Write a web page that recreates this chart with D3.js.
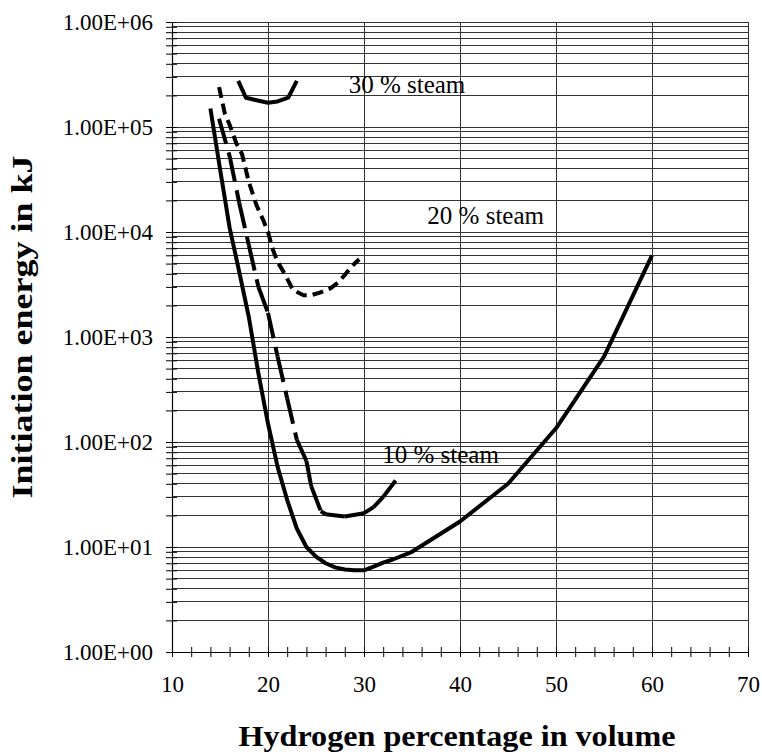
<!DOCTYPE html>
<html>
<head>
<meta charset="utf-8">
<script src="https://cdn.jsdelivr.net/npm/d3@7"></script>
<style>
  body { margin: 0; background: #fff; }
  text { font-family: "Liberation Serif", "Times New Roman", serif; fill: #000; }
</style>
</head>
<body>
<svg id="chart"></svg>
<script>
// Curves: [hydrogen %, initiation energy kJ]
const noSteam = [
  [14, 1.5e5], [15, 4.0e4], [16, 1.1e4], [17, 4.2e3], [18, 1.55e3], [19, 450],
  [20, 150], [21, 58], [22, 28], [23, 15], [24, 10], [25, 8.1], [26, 7.0],
  [27, 6.4], [28, 6.1], [29, 6.0], [30, 6.0], [31, 6.5], [32, 7.1], [33, 7.6],
  [35, 9.0], [40, 17.5], [45, 40], [50, 135], [55, 650], [60, 6000]
];
const steam10 = [
  [14.9, 1.2e5], [16, 5.3e4], [17, 1.9e4], [18, 7.5e3], [19, 3.0e3], [20, 1.7e3],
  [21, 650], [22, 260], [23, 105], [24, 66], [24.5, 38], [25.5, 22], [26, 20.5],
  [28, 19.5], [30, 21], [31, 24], [32, 30], [33.3, 43]
];
const steam20 = [
  [14.9, 2.4e5], [15.5, 1.35e5], [16, 1.05e5], [16.7, 7.0e4], [17.3, 5.5e4],
  [18, 3.0e4], [18.8, 1.8e4], [19.5, 1.3e4], [20, 1.0e4], [20.5, 6.8e3],
  [21, 5.2e3], [21.8, 3.9e3], [22.6, 2.8e3], [23.7, 2.5e3], [24.5, 2.5e3],
  [25.4, 2.65e3], [26.5, 2.9e3], [27.3, 3.3e3], [28, 3.9e3], [28.7, 4.7e3],
  [29.5, 5.5e3]
];
const steam30 = [
  [16.9, 2.75e5], [17.7, 1.9e5], [18.8, 1.8e5], [20, 1.7e5], [21, 1.75e5],
  [22.1, 1.9e5], [23, 2.75e5]
];

// Annotation text and where it sits, in data units
const noteText = ["30 % steam", "20 % steam", "10 % steam"];
const noteX = [28.4, 36.6, 31.9];
const noteY = [2.1e5, 1.19e4, 63];

// Axis ticks and labels
const xTicks = [10, 20, 30, 40, 50, 60, 70];
const yMajor = [1, 10, 100, 1000, 10000, 100000, 1000000];
const yTickLabels = ["1.00E+00", "1.00E+01", "1.00E+02", "1.00E+03", "1.00E+04", "1.00E+05", "1.00E+06"];

const width = 762;
const height = 755;
const plotLeft = 172, plotRight = 748, plotTop = 22, plotBottom = 652;

const svg = d3.select("#chart")
  .attr("width", width)
  .attr("height", height);

const x = d3.scaleLinear().domain([10, 70]).range([plotLeft, plotRight]);
const y = d3.scaleLog().domain([1, 1e6]).range([plotBottom, plotTop]);

// every 1..9 x 10^k step for the horizontal grid
const yMinor = [];
for (let k = 0; k < 6; k++) {
  for (let m = 1; m <= 9; m++) yMinor.push(m * Math.pow(10, k));
}
yMinor.push(1e6);

// Grid lines
const grid = svg.append("g").attr("shape-rendering", "crispEdges");
grid.selectAll("line.h")
  .data(yMinor.filter(d => d > 1))
  .join("line")
  .attr("class", "h")
  .attr("x1", plotLeft).attr("x2", plotRight)
  .attr("y1", d => y(d)).attr("y2", d => y(d))
  .attr("stroke", "#333").attr("stroke-width", 1);
grid.selectAll("line.v")
  .data(xTicks.slice(1))
  .join("line")
  .attr("class", "v")
  .attr("x1", d => x(d)).attr("x2", d => x(d))
  .attr("y1", plotTop).attr("y2", plotBottom)
  .attr("stroke", "#333").attr("stroke-width", 1);

// Y axis: tick marks at every grid value, labels at decades
const yAxis = d3.axisLeft(y)
  .tickValues(yMinor)
  .tickSizeInner(5)
  .tickSizeOuter(0)
  .tickFormat(d => {
    const i = yMajor.indexOf(d);
    return i >= 0 ? yTickLabels[i] : "";
  });
const gy = svg.append("g")
  .attr("transform", `translate(${plotLeft},0)`)
  .call(yAxis);
gy.selectAll(".tick line").attr("x2", -6).attr("x1", 5).attr("stroke", "#000");
gy.select(".domain").attr("stroke", "#000").attr("stroke-width", 1.2);
gy.selectAll(".tick text")
  .attr("x", -19)
  .attr("dy", "0.31em")
  .style("font-family", "'Liberation Serif', serif")
  .style("font-size", "23px");

// X axis: ticks every 2, labels every 10
const xAxis = d3.axisBottom(x)
  .tickValues(d3.range(10, 71, 2))
  .tickSizeInner(5)
  .tickSizeOuter(0)
  .tickFormat(d => xTicks.includes(d) ? d : "");
const gx = svg.append("g")
  .attr("transform", `translate(0,${plotBottom})`)
  .call(xAxis);
gx.selectAll(".tick line").attr("y1", -5).attr("y2", 5).attr("stroke", "#000");
gx.select(".domain").attr("stroke", "#000").attr("stroke-width", 1.2);
gx.selectAll(".tick text")
  .attr("y", 40)
  .attr("dy", 0)
  .style("font-family", "'Liberation Serif', serif")
  .style("font-size", "23px");

// Curves
const line = d3.line()
  .x(d => x(d[0]))
  .y(d => y(d[1]));

function drawCurve(data, dash, perSegment) {
  if (perSegment) {
    // dash pattern restarts at each data point, as the original plot does
    d3.pairs(data).forEach(p => {
      svg.append("path")
        .attr("d", line(p))
        .attr("fill", "none")
        .attr("stroke", "#000")
        .attr("stroke-width", 4)
        .attr("stroke-dasharray", dash);
    });
  } else {
    svg.append("path")
      .attr("d", line(data))
      .attr("fill", "none")
      .attr("stroke", "#000")
      .attr("stroke-width", 4)
      .attr("stroke-linejoin", "round")
      .attr("stroke-dasharray", dash);
  }
}

drawCurve(noSteam, null, false);
drawCurve(steam10, "26,9", true);
drawCurve(steam20, "11,6", false);
drawCurve(steam30, null, false);

// Steam labels
svg.selectAll("text.note")
  .data(noteText)
  .join("text")
  .attr("class", "note")
  .attr("x", (d, i) => x(noteX[i]))
  .attr("y", (d, i) => y(noteY[i]))
  .style("font-size", "25px")
  .text(d => d);

// Axis titles (the original lettering is stretched, so fit it to its length)
svg.append("text")
  .attr("x", 457)
  .attr("y", 746)
  .attr("text-anchor", "middle")
  .attr("textLength", 437)
  .attr("lengthAdjust", "spacingAndGlyphs")
  .style("font-size", "30px")
  .style("font-weight", "bold")
  .text("Hydrogen percentage in volume");

svg.append("text")
  .attr("transform", "translate(32,327) rotate(-90)")
  .attr("text-anchor", "middle")
  .attr("textLength", 343)
  .attr("lengthAdjust", "spacingAndGlyphs")
  .style("font-size", "30px")
  .style("font-weight", "bold")
  .text("Initiation energy in kJ");
</script>
</body>
</html>
